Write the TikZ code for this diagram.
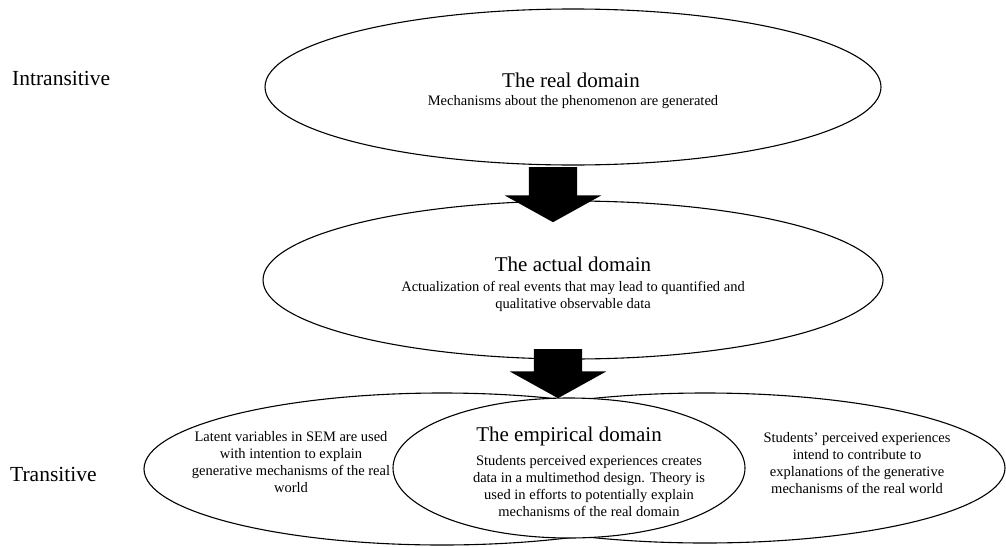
\documentclass[tikz,border=0pt]{standalone}
\usepackage{fontspec}
\setmainfont{Liberation Serif}
\usetikzlibrary{shapes.geometric,shapes.arrows}

\newcommand{\ttlfont}{\fontsize{21}{25}\selectfont}
\newcommand{\bodyfont}{\fontsize{14.5}{17}\selectfont}

\begin{document}
\begin{tikzpicture}[x=1pt,y=-1pt,
  realm/.style = {shape=ellipse, draw, line width=1.1pt, inner sep=0pt},
  ttl/.style = {inner sep=0pt, font=\ttlfont},
  txt/.style = {inner sep=0pt, align=center, font=\bodyfont},
  side/.style = {inner sep=0pt, anchor=west, font=\fontsize{21.5}{25}\selectfont},
  blockarrow/.style = {shape=single arrow, fill=black, rotate=-90,
    inner xsep=0pt, inner ysep=24pt, single arrow tip angle=122,
    single arrow head extend=24pt, anchor=tail}]
  \useasboundingbox (0,0) rectangle (1006,546);

  % levels
  \node[side] (intr) at (12,78) {Intransitive};
  \node[side] (trans) at (10,474) {Transitive};

  % real domain
  \node[realm, minimum width=616pt, minimum height=156pt] (real) at (573,87) {};
  \node[ttl] (realttl) at (571,80) {The real domain};
  \node[txt] (realtxt) at (573,102)
    {Mechanisms about the phenomenon are generated};

  % actual domain
  \node[realm, minimum width=620pt, minimum height=158pt] (actual) at (573,280) {};
  \node[ttl] (actualttl) at (573,264) {The actual domain};
  \node[txt] (actualtxt) at (573,296)
    {Actualization of real events that may lead to quantified and\\
     qualitative observable data};

  \node[blockarrow, minimum height=55pt] (arrA) at (553,167) {};
  \node[blockarrow, minimum height=49pt] (arrB) at (558,349) {};

  % empirical domain
  \node[realm, minimum width=596pt, minimum height=152pt] (left) at (442,469) {};
  \node[realm, minimum width=600pt, minimum height=150pt] (right) at (705,468) {};
  \node[txt] (lefttxt) at (291,462)
    {Latent variables in SEM are used\\ with intention to explain\\
     generative mechanisms of the real\\ world};
  \node[txt] (righttxt) at (857,463)
    {Students' perceived experiences\\ intend to contribute to\\
     explanations of the generative\\ mechanisms of the real world};
  \node[realm, fill=white, minimum width=352pt, minimum height=140pt] (empir) at (569,468) {};
  \node[ttl] (empirttl) at (569,436) {The empirical domain};
  \node[txt] (empirtxt) at (589,486)
    {Students perceived experiences creates\\ data in a multimethod design. Theory is\\
     used in efforts to potentially explain\\ mechanisms of the real domain};
\end{tikzpicture}
\end{document}
